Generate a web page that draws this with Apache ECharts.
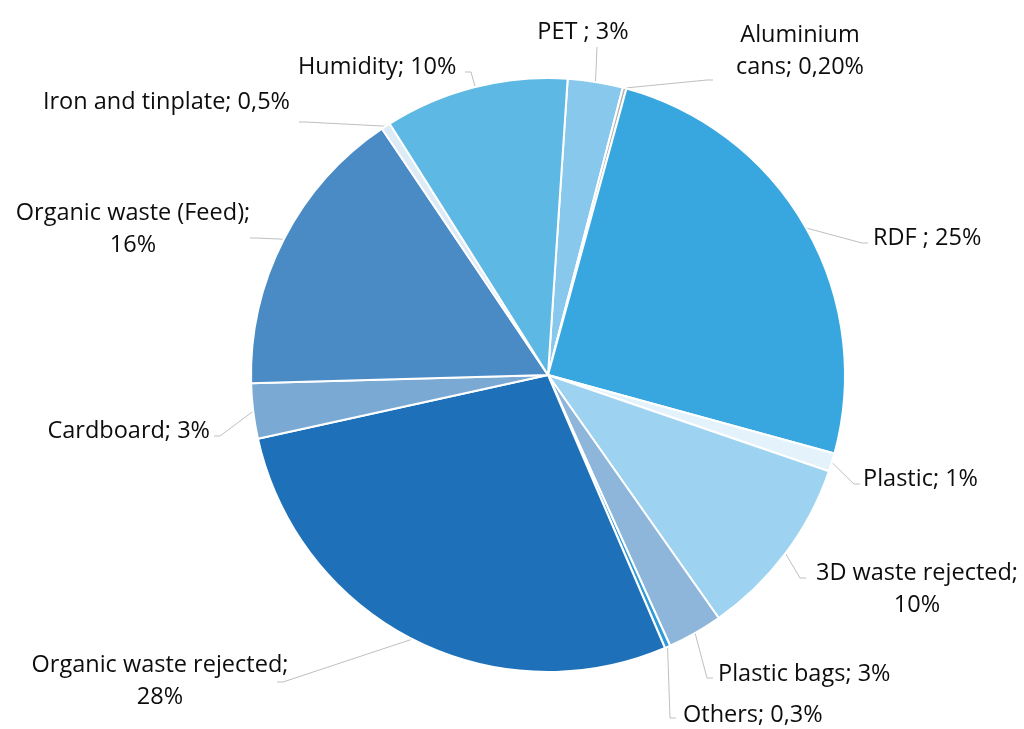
<!DOCTYPE html>
<html>
<head>
<meta charset="utf-8">
<title>Waste composition</title>
<script src="https://cdn.jsdelivr.net/npm/echarts@6/dist/echarts.min.js"></script>
<style>
  html, body { margin: 0; padding: 0; background: #ffffff; }
  #chart { width: 1024px; height: 729px; }
</style>
</head>
<body>
<div id="chart"></div>
<script>
// Output fractions of the sorting plant (share of total, %), clockwise from the top
const categories = [
  'PET ', 'Aluminium\ncans', 'RDF ', 'Plastic', '3D waste rejected', 'Plastic bags',
  'Others', 'Organic waste rejected', 'Cardboard', 'Organic waste (Feed)',
  'Iron and tinplate', 'Humidity'
];
const shares = [3, 0.2, 25, 1, 10, 3, 0.3, 28, 3, 16, 0.5, 10];
// decimals shown in each percentage label
const shareDecimals = [0, 2, 0, 0, 0, 0, 1, 0, 0, 0, 1, 0];
// categories whose percentage goes on a second line
const wrappedShare = ['3D waste rejected', 'Organic waste rejected', 'Organic waste (Feed)'];

const sliceColors = [
  '#88c8ec', '#b4b4b4', '#38a7df', '#e4f2fb', '#9dd3f0', '#8eb6db',
  '#2f9bd8', '#1e71b8', '#7aaad4', '#4a8bc6', '#dcebf6', '#5db8e4'
];

// where each label sits and where its leader line meets it
const labelPlacement = [
  { x: 583, y: 32, align: 'center', end: [597, 47] },
  { x: 800, y: 51, align: 'center', end: [713, 80] },
  { x: 873, y: 238, align: 'left', end: [868, 243] },
  { x: 863, y: 479, align: 'left', end: [860, 484] },
  { x: 917, y: 589, align: 'center', end: [806, 578] },
  { x: 718, y: 674, align: 'left', end: [713, 678] },
  { x: 683, y: 715, align: 'left', end: [676, 718] },
  { x: 160, y: 681, align: 'center', end: [277, 682] },
  { x: 210, y: 431, align: 'right', end: [214, 436] },
  { x: 133, y: 229, align: 'center', end: [250, 238] },
  { x: 290, y: 102, align: 'right', end: [299, 122] },
  { x: 298, y: 67, align: 'left', end: [465, 72] }
];

const CENTER = [548, 375];
const RADIUS = 297;

function shareText(i) {
  const pct = shares[i].toFixed(shareDecimals[i]).replace('.', ',') + '%';
  const sep = wrappedShare.indexOf(categories[i]) >= 0 ? ';\n' : '; ';
  return categories[i] + sep + pct;
}

const chart = echarts.init(document.getElementById('chart'), null, { renderer: 'canvas' });

chart.setOption({
  backgroundColor: '#ffffff',
  animation: false,
  series: [{
    type: 'pie',
    center: CENTER,
    radius: RADIUS,
    startAngle: 86.2,
    clockwise: true,
    avoidLabelOverlap: false,
    itemStyle: { borderColor: '#ffffff', borderWidth: 2 },
    label: {
      show: true,
      position: 'outside',
      formatter: function (p) { return shareText(p.dataIndex); },
      fontFamily: '"Open Sans", "Noto Sans", sans-serif',
      fontSize: 23.5,
      lineHeight: 32,
      color: '#0d0d0d'
    },
    labelLine: {
      show: true,
      length: 20,
      length2: 10,
      lineStyle: { color: '#bfbfbf', width: 1 }
    },
    emphasis: { disabled: true },
    labelLayout: function (params) {
      const p = labelPlacement[params.dataIndex];
      const pts = params.labelLinePoints;
      let edge = pts && pts.length ? pts[0] : null;
      const out = { x: p.x, y: p.y, align: p.align, verticalAlign: 'middle' };
      if (edge) {
        const dir = edge[0] > p.end[0] ? 1 : -1;
        const elbow = p.align === 'center' && Math.abs(edge[0] - p.end[0]) < 20
          ? p.end
          : [p.end[0] + dir * 6, p.end[1]];
        out.labelLinePoints = [edge, elbow, p.end];
      }
      return out;
    },
    data: categories.map(function (name, i) {
      return { name: name, value: shares[i], itemStyle: { color: sliceColors[i] } };
    })
  }]
});
</script>
</body>
</html>
